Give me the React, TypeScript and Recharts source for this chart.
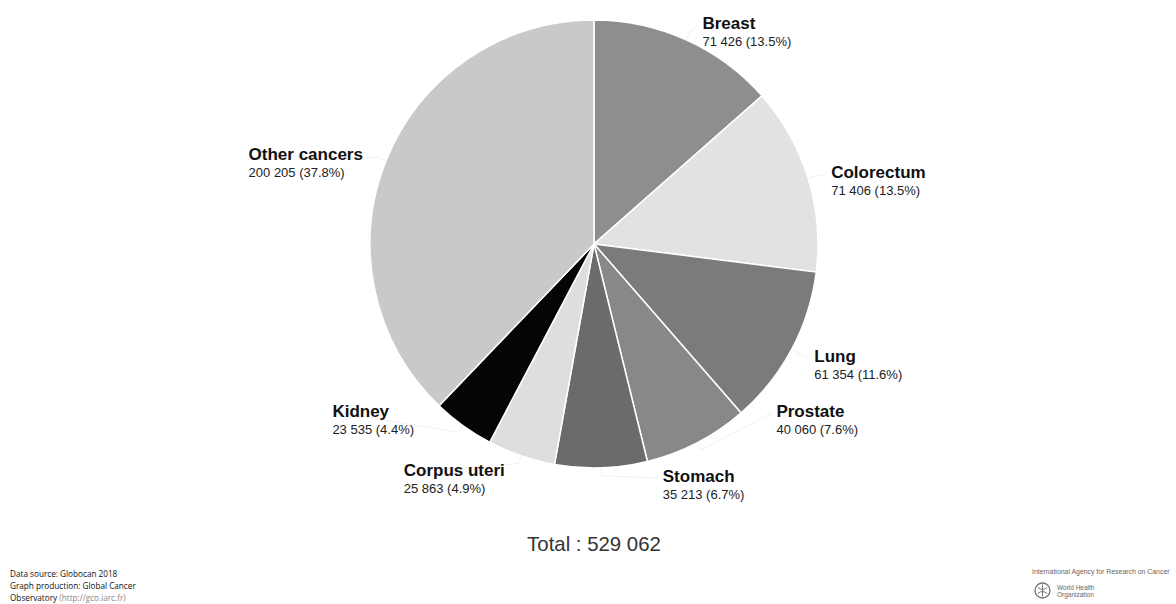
import React from "react";
import { PieChart, Pie, Cell } from "recharts";

const cancerSites = ["Breast", "Colorectum", "Lung", "Prostate", "Stomach", "Corpus uteri", "Kidney", "Other cancers"];
const newCases = [71426, 71406, 61354, 40060, 35213, 25863, 23535, 200205];
const sliceColors = ["#8e8e8e", "#e2e2e2", "#7b7b7b", "#888888", "#6b6b6b", "#dedede", "#050505", "#c9c9c9"];
// label layout nudges relative to the default anchor (outerRadius + 20 along midAngle)
const labelNudgeX = [8, 4, 5, 70, 61, -111, -119, -119];
const labelNudgeY = [7, 6, 3, -44, -6, 1, -25, 7];
const totalLabel = "Total : 529 062";

const data = cancerSites.map((name, i) => ({ name, value: newCases[i] }));
const total = newCases.reduce((a, b) => a + b, 0);

const fmt = (n: number) => String(n).replace(/\B(?=(\d{3})+(?!\d))/g, " ");

const RAD = Math.PI / 180;

const renderLabel = (props: any) => {
  const { cx, cy, midAngle, outerRadius, index, name, value } = props;
  const cos = Math.cos(-midAngle * RAD);
  const sin = Math.sin(-midAngle * RAD);
  const ax = cx + (outerRadius + 20) * cos;
  const ay = cy + (outerRadius + 20) * sin;
  const tx = ax + labelNudgeX[index];
  const ty = ay + labelNudgeY[index];
  const ex = cx + outerRadius * cos;
  const ey = cy + outerRadius * sin;
  const mx = cx + (outerRadius + 8) * cos;
  const my = cy + (outerRadius + 8) * sin;
  const lx = tx < cx ? tx + 10 : tx - 4;
  const pct = ((value / total) * 100).toFixed(1);
  return (
    <g>
      <path d={`M${ex},${ey}L${mx},${my}L${lx},${ty - 4}`} stroke="#f1f1f1" fill="none" strokeWidth={1} />
      <text x={tx} y={ty} fontFamily="'Liberation Sans', Arial, sans-serif" fontSize={17} fontWeight="bold" fill="#111">
        {name}
      </text>
      <text x={tx} y={ty + 17} fontFamily="'Liberation Sans', Arial, sans-serif" fontSize={13} fill="#222">
        {`${fmt(value)} (${pct}%)`}
      </text>
    </g>
  );
};

export default function App() {
  return (
    <div style={{ position: "absolute", left: 0, top: 0, width: 1176, height: 604, background: "#fff", overflow: "hidden" }}>
      <PieChart width={1176} height={604} margin={{ top: 0, right: 0, bottom: 0, left: 0 }}>
        <Pie
          data={data}
          dataKey="value"
          nameKey="name"
          cx={594}
          cy={244}
          outerRadius={224}
          startAngle={90}
          endAngle={-270}
          stroke="#ffffff"
          strokeWidth={1.5}
          label={renderLabel}
          labelLine={false}
          isAnimationActive={false}
        >
          {data.map((d, i) => (
            <Cell key={d.name} fill={sliceColors[i]} />
          ))}
        </Pie>
      </PieChart>
      <div style={{ position: "absolute", left: 0, width: 1176, top: 533, textAlign: "center", fontFamily: "'Liberation Sans', Arial, sans-serif", fontSize: 20.4, color: "#333", paddingLeft: 12, boxSizing: "border-box" }}>
        {totalLabel}
      </div>
      <div style={{ position: "absolute", left: 10, top: 568, fontFamily: "'Open Sans', sans-serif", fontSize: 8.2, lineHeight: "12px", color: "#111" }}>
        <div>Data source: Globocan 2018</div>
        <div>Graph production: Global Cancer</div>
        <div>
          Observatory <span style={{ color: "#888" }}>(http://gco.iarc.fr)</span>
        </div>
      </div>
      <div style={{ position: "absolute", left: 1032, top: 568, fontFamily: "'Liberation Sans', Arial, sans-serif", fontSize: 6.9, color: "#666", whiteSpace: "nowrap" }}>
        International Agency for Research on Cancer
      </div>
      <svg style={{ position: "absolute", left: 1033, top: 582 }} width={20} height={17}>
        <circle cx={9.5} cy={8.5} r={7.5} fill="none" stroke="#777" strokeWidth={1.3} />
        <path d="M9.5 2.5 L9.5 14.5 M5 5.5 Q9.5 9.5 14 5.5 M5 11.5 Q9.5 7.5 14 11.5" stroke="#777" fill="none" strokeWidth={1} />
      </svg>
      <div style={{ position: "absolute", left: 1057, top: 584, fontFamily: "'Liberation Sans', Arial, sans-serif", fontSize: 6.5, lineHeight: "7px", color: "#666" }}>
        <div>World Health</div>
        <div>Organization</div>
      </div>
    </div>
  );
}
